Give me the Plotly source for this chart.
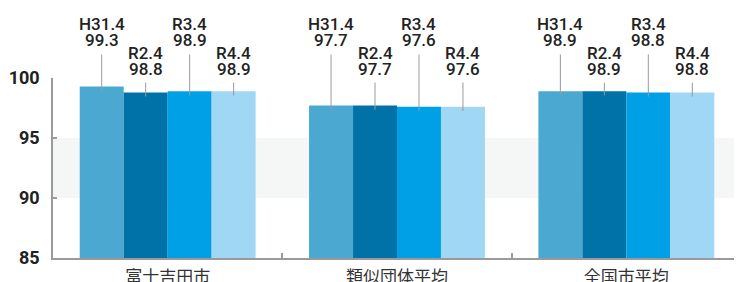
import plotly.graph_objects as go

categories = ["富士吉田市", "類似団体平均", "全国市平均"]
series_names = ["H31.4", "R2.4", "R3.4", "R4.4"]
values = {
    "H31.4": [99.3, 97.7, 98.9],
    "R2.4": [98.8, 97.7, 98.9],
    "R3.4": [98.9, 97.6, 98.8],
    "R4.4": [98.9, 97.6, 98.8],
}
colors = ["#4BA9D1", "#0072A8", "#00A0E6", "#A0D7F4"]
y_ticks = [85, 90, 95, 100]

Y0, Y1 = 85, 100
BARGAP = 0.233
LABEL_FONT = dict(family="Roboto, sans-serif", size=17, color="#222222", weight=500)

fig = go.Figure()
for name, col in zip(series_names, colors):
    fig.add_trace(go.Bar(
        x=categories, y=values[name], name=name,
        marker=dict(color=col, line=dict(width=0)),
        base=0,
    ))

# band 90-95
fig.add_shape(type="rect", xref="paper", yref="y", x0=0, x1=1, y0=90, y1=95,
              fillcolor="#F5F7F7", line=dict(width=0), layer="below")

bar_w = (1 - BARGAP) / len(series_names)
# label levels (data units): high / low stagger
value_level = {0: 102.13, 1: 99.79}
name_level = {0: 103.54, 1: 101.125}

def to_paper(v):
    return (v - Y0) / (Y1 - Y0)

for si, name in enumerate(series_names):
    stagger = si % 2
    for ci, cat in enumerate(categories):
        v = values[name][ci]
        xc = ci + (si - (len(series_names) - 1) / 2) * bar_w
        fig.add_annotation(
            x=xc, y=v - 0.35, xref="x", yref="y",
            ax=xc, ay=value_level[stagger], axref="x", ayref="y",
            text=f"{v:.1f}", showarrow=True, arrowhead=0, arrowwidth=1,
            arrowcolor="#9A9A9A", startstandoff=2, standoff=0,
            yanchor="bottom", xanchor="center", font=LABEL_FONT,
        )
        fig.add_annotation(
            x=xc, y=to_paper(name_level[stagger]), xref="x", yref="paper",
            text=name, showarrow=False, yanchor="bottom", xanchor="center",
            font=LABEL_FONT,
        )

# page body has an 8px default margin, so the figure is sized/offset to compensate
fig.update_layout(
    width=734, height=274,
    margin=dict(l=45, r=1, t=70, b=24),
    paper_bgcolor="white", plot_bgcolor="rgba(0,0,0,0)",
    barmode="group", bargap=BARGAP, bargroupgap=0,
    showlegend=False,
    font=dict(family="Roboto, sans-serif"),
)
fig.update_yaxes(
    range=[Y0, Y1], tickvals=y_ticks, showgrid=False, zeroline=False,
    showline=True, linecolor="#9A9A9A", linewidth=1.5,
    ticks="inside", ticklen=4, tickcolor="#9A9A9A", tickwidth=1.5,
    tickfont=dict(family="Roboto, sans-serif", size=18, color="#222222", weight="bold"),
    ticklabelstandoff=8, automargin=False,
)
fig.update_xaxes(
    showgrid=False, showline=True, linecolor="#9A9A9A", linewidth=1.5,
    ticks="inside", tickson="boundaries", ticklen=5, tickcolor="#9A9A9A", tickwidth=1.5,
    tickfont=dict(family="Noto Sans CJK JP, sans-serif", size=17, color="#333333"),
    ticklabelstandoff=3, automargin=False,
    range=[-0.5, 2.5],
)

fig.write_html("out.html")
